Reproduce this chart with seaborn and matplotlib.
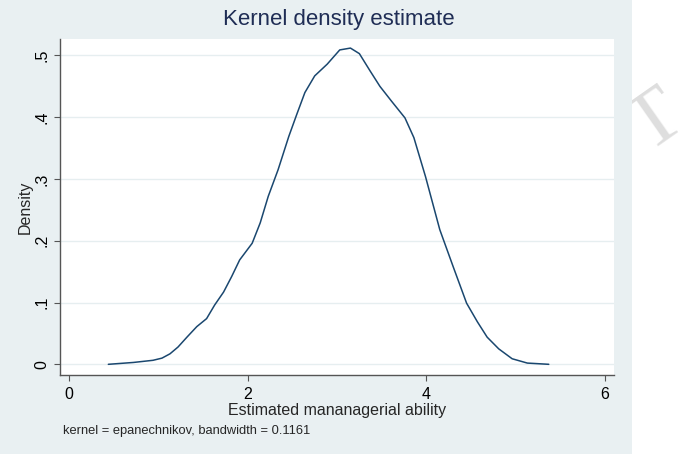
import numpy as np
import pandas as pd
import matplotlib
matplotlib.use("Agg")
from matplotlib import pyplot as plt
from matplotlib.patches import Rectangle
import seaborn as sns

# density curve (Stata kdensity output)
ability = [0.44, 0.72, 0.94, 1.04, 1.13, 1.22, 1.32, 1.43, 1.54, 1.63,
           1.73, 1.82, 1.91, 2.05, 2.14, 2.23, 2.34, 2.46, 2.55, 2.64,
           2.75, 2.89, 3.03, 3.15, 3.25, 3.37, 3.48, 3.61, 3.76, 3.86,
           3.99, 4.15, 4.30, 4.45, 4.57, 4.68, 4.81, 4.96, 5.13, 5.37]
density = [0.000, 0.003, 0.0065, 0.010, 0.017, 0.028, 0.044, 0.061, 0.074, 0.096,
           0.117, 0.142, 0.169, 0.196, 0.229, 0.272, 0.315, 0.369, 0.405, 0.440,
           0.467, 0.486, 0.509, 0.512, 0.503, 0.475, 0.450, 0.426, 0.399, 0.367,
           0.304, 0.218, 0.158, 0.099, 0.069, 0.044, 0.025, 0.009, 0.002, 0.000]
xticks = [0, 2, 4, 6]
yticks = [0, 0.1, 0.2, 0.3, 0.4, 0.5]
ytick_labels = ["0", ".1", ".2", ".3", ".4", ".5"]

bg = "#e9f0f2"
navy = "#1a476f"

sns.set_style("white")
plt.rcParams["font.family"] = ["Liberation Sans", "DejaVu Sans"]

df = pd.DataFrame({"ability": ability, "density": density})

fig = plt.figure(figsize=(6.9, 4.54), dpi=100)
fig.patch.set_facecolor("white")

# watermark letter peeking out behind the graph region
fig.text(668 / 690, 1 - 138 / 454, "T", family="Liberation Serif", fontsize=58,
         color="#dedede", rotation=35, rotation_mode="anchor",
         ha="center", va="baseline", zorder=0)
fig.patches.append(Rectangle((0, 0), 632 / 690, 1, transform=fig.transFigure,
                             facecolor=bg, edgecolor="none", zorder=1))

ax = fig.add_axes([60 / 690, 1 - 375 / 454, 554 / 690, 336 / 454])
ax.set_zorder(2)
ax.set_facecolor("white")

sns.lineplot(data=df, x="ability", y="density", color=navy, linewidth=1.1, ax=ax)

ax.set_xlim(-0.101, 6.10)
ax.set_ylim(-0.0173, 0.5267)
ax.set_xticks(xticks)
ax.set_yticks(yticks)
ax.set_yticklabels(ytick_labels, rotation=90, va="center")
ax.yaxis.grid(True, color="#e6eef0", linewidth=1)
ax.xaxis.grid(False)

for side in ["top", "right"]:
    ax.spines[side].set_visible(False)
for side in ["left", "bottom"]:
    ax.spines[side].set_color("#555555")
    ax.spines[side].set_linewidth(1)

ax.tick_params(axis="both", direction="out", length=4.5, width=0.8,
               color="#555555", labelsize=11.5, labelcolor="black", pad=4)
ax.tick_params(axis="y", pad=3)
ax.tick_params(axis="x", bottom=True)
ax.tick_params(axis="y", left=True)

ax.set_xlabel("Estimated mananagerial ability", fontsize=11.5, labelpad=1)
ax.set_ylabel("Density", fontsize=11.5, labelpad=1)

fig.text(339 / 690, 1 - 20 / 454, "Kernel density estimate", fontsize=16,
         color="#1f2d55", ha="center", va="center", zorder=3)
fig.text(63 / 690, 1 - 431 / 454, "kernel = epanechnikov, bandwidth = 0.1161",
         fontsize=9.3, ha="left", va="center", zorder=3)

plt.savefig("out.png", dpi=100)
